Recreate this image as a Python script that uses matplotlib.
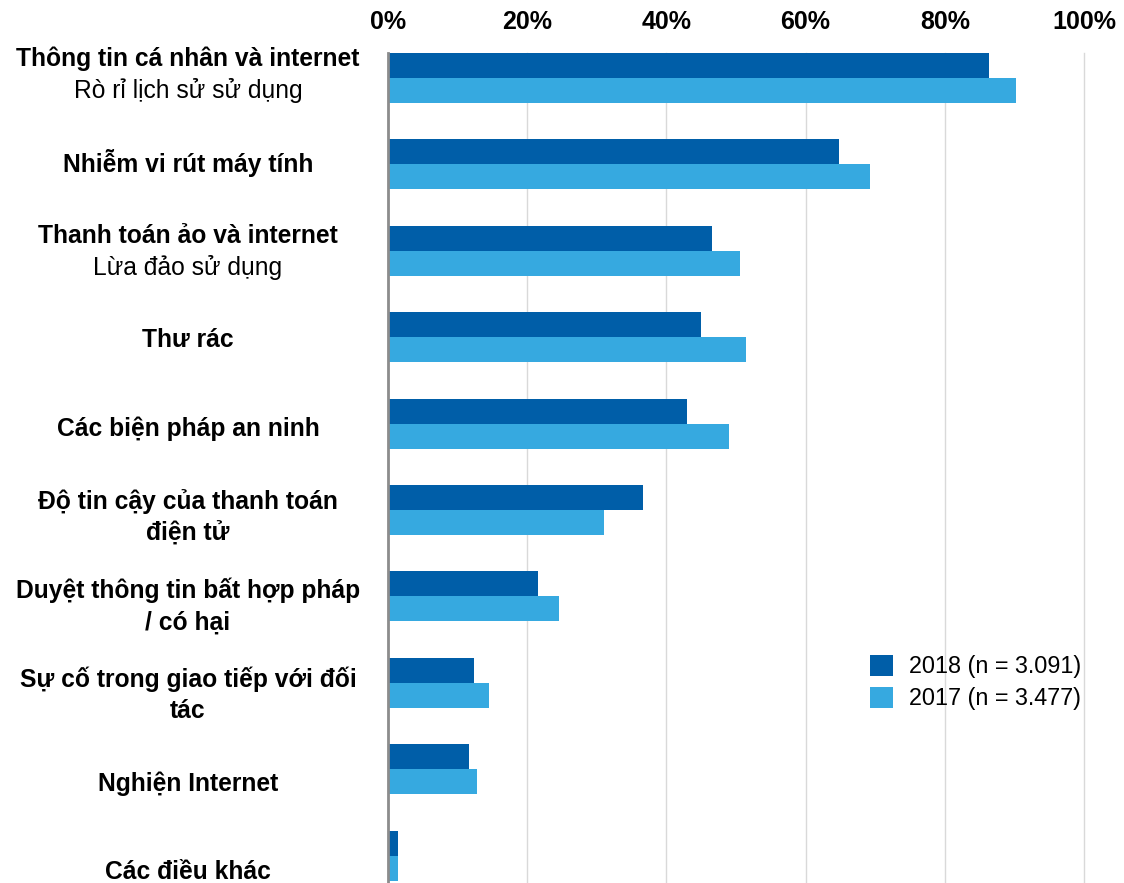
import matplotlib
matplotlib.use('Agg')
import matplotlib.pyplot as plt
import matplotlib.transforms as mtransforms
import numpy as np

plt.rcParams['font.family'] = ['Liberation Sans', 'DejaVu Sans']

# each category: list of (line text, weight)
categories = [
    [('Thông tin cá nhân và internet', 'bold'), ('Rò rỉ lịch sử sử dụng', 'normal')],
    [('Nhiễm vi rút máy tính', 'bold')],
    [('Thanh toán ảo và internet', 'bold'), ('Lừa đảo sử dụng', 'normal')],
    [('Thư rác', 'bold')],
    [('Các biện pháp an ninh', 'bold')],
    [('Độ tin cậy của thanh toán', 'bold'), ('điện tử', 'bold')],
    [('Duyệt thông tin bất hợp pháp', 'bold'), ('/ có hại', 'bold')],
    [('Sự cố trong giao tiếp với đối', 'bold'), ('tác', 'bold')],
    [('Nghiện Internet', 'bold')],
    [('Các điều khác', 'bold')],
]
values_2018 = [86.4, 64.8, 46.6, 45.0, 43.0, 36.6, 21.6, 12.4, 11.6, 1.4]
values_2017 = [90.2, 69.3, 50.6, 51.4, 49.0, 31.0, 24.6, 14.5, 12.8, 1.4]
series_labels = ['2018 (n = 3.091)', '2017 (n = 3.477)']
xticks = [0, 20, 40, 60, 80, 100]

c_2018 = '#005ea8'
c_2017 = '#36a9e0'

fig = plt.figure(figsize=(11.24, 8.83), dpi=100)
ax = fig.add_axes([388 / 1124, 0, (1084 - 388) / 1124, (883 - 53) / 883])

y = np.arange(len(categories))
h = 0.29
b1 = ax.barh(y - h / 2, values_2018, height=h, color=c_2018, label=series_labels[0], zorder=3)
b2 = ax.barh(y + h / 2, values_2017, height=h, color=c_2017, label=series_labels[1], zorder=3)

ax.set_xlim(0, 100)
ax.set_ylim(9.317, -0.289)
ax.set_xticks(xticks)
ax.set_xticklabels([f'{t}%' for t in xticks], fontsize=18, fontweight='bold')
ax.xaxis.tick_top()
ax.tick_params(axis='x', length=0, pad=14)
ax.set_yticks([])
ax.grid(axis='x', color='#d9d9d9', linewidth=1, zorder=0)
for gl in ax.get_xgridlines():
    gl.set_clip_on(False)
for s in ['top', 'right', 'bottom']:
    ax.spines[s].set_visible(False)
ax.spines['left'].set_color('#8c8c8c')
ax.spines['left'].set_linewidth(2)
ax.spines['left'].set_zorder(4)

# category labels, centered in the left column
trans = mtransforms.blended_transform_factory(fig.transFigure, ax.transData)
label_pitch = 1.026
line_gap = 0.37
for i, lines in enumerate(categories):
    yc = -0.04 + label_pitch * i
    n = len(lines)
    for j, (txt, wt) in enumerate(lines):
        ly = yc + (j - (n - 1) / 2) * line_gap
        ax.text(188 / 1124, ly, txt, transform=trans, ha='center', va='center',
                fontsize=17.7, fontweight=wt, clip_on=False)

fig.legend(handles=[b1, b2], loc='upper left', bbox_to_anchor=(870 / 1124, 1 - 655 / 883),
           frameon=False, fontsize=16.8, handlelength=0.98, handleheight=0.98,
           handletextpad=0.7, labelspacing=0.38, borderpad=0, borderaxespad=0)

fig.savefig('out.png', dpi=100)
